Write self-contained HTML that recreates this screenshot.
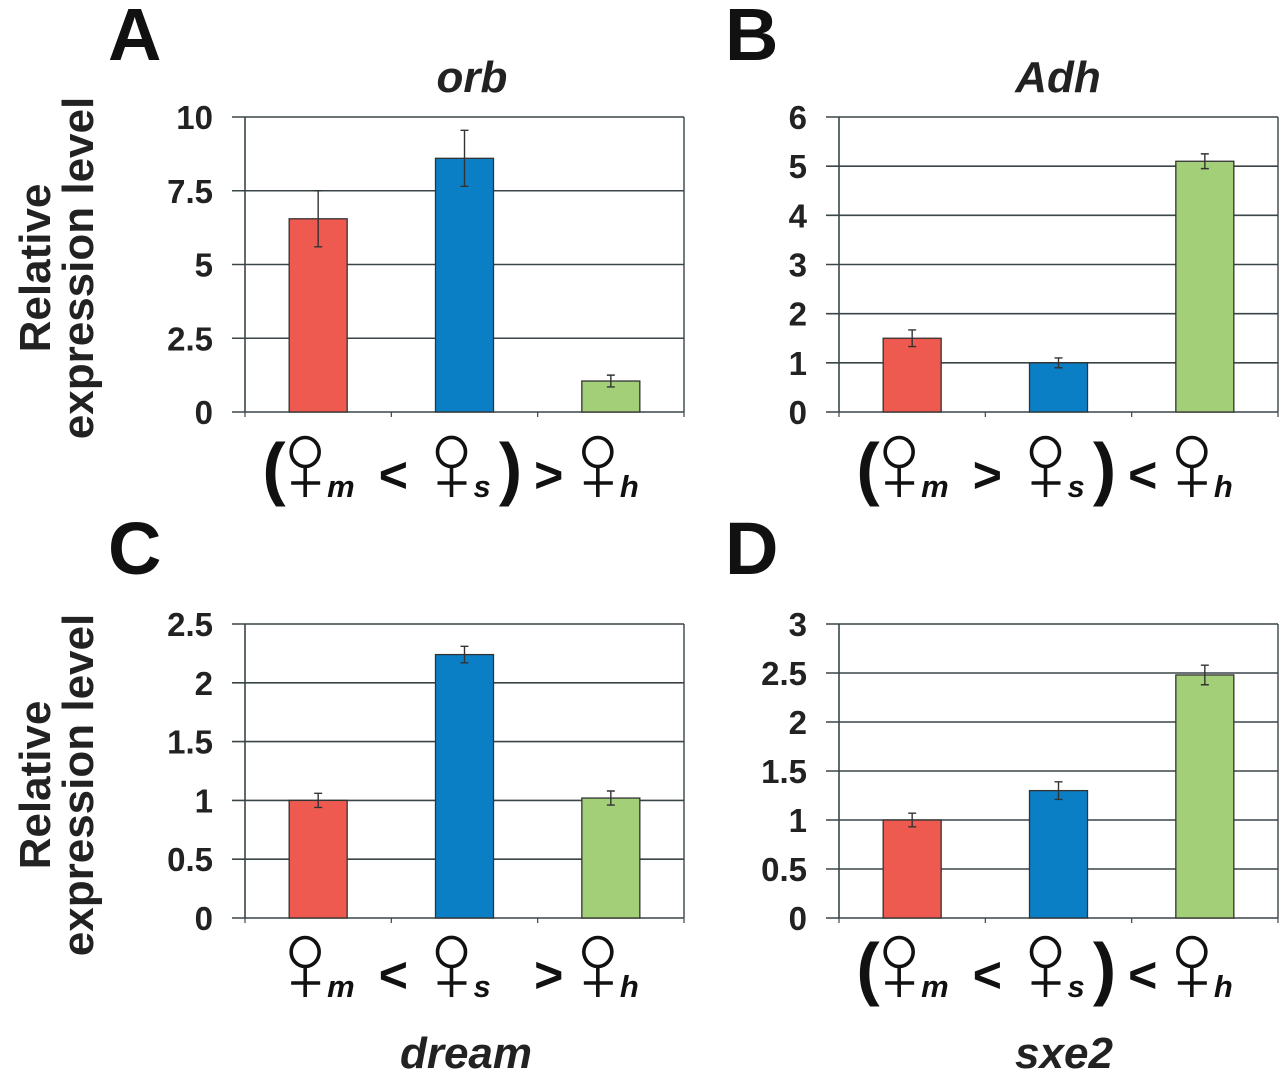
<!DOCTYPE html>
<html><head><meta charset="utf-8"><style>
html,body{margin:0;padding:0;background:#fff;}
svg{display:block;font-family:"Liberation Sans",Arial,sans-serif;}
</style></head><body>
<svg id="fig" width="1280" height="1075" viewBox="0 0 1280 1075" xmlns="http://www.w3.org/2000/svg"></svg>
<script>
const panelNames = ["orb-panel","adh-panel","dream-panel","sxe2-panel"];
const panelLetters = ["A","B","C","D"];
const geneNames = ["orb","Adh","dream","sxe2"];
const categories = ["m","s","h"];
const valuesA = [6.55, 8.6, 1.05];
const errA = [0.95, 0.95, 0.2];
const ticksA = ["0","2.5","5","7.5","10"];
const valuesB = [1.5, 1.0, 5.1];
const errB = [0.17, 0.1, 0.15];
const ticksB = ["0","1","2","3","4","5","6"];
const valuesC = [1.0, 2.24, 1.02];
const errC = [0.06, 0.07, 0.06];
const ticksC = ["0","0.5","1","1.5","2","2.5"];
const valuesD = [1.0, 1.3, 2.48];
const errD = [0.07, 0.09, 0.1];
const ticksD = ["0","0.5","1","1.5","2","2.5","3"];
const relations = [["(","<",")",">"],["(",">",")","<"],["","<","",">"],["(","<",")","<"]];

const NS="http://www.w3.org/2000/svg";
const svg=document.getElementById('fig');
function mk(tag,attrs,parent){const e=document.createElementNS(NS,tag);for(const k in attrs)e.setAttribute(k,attrs[k]);(parent||svg).appendChild(e);return e;}
const colors=["#ee5a4f","#0a7fc6","#a3cf78"];
const layouts=[
 {x0:245,x1:684,y0:412,y1:117,vals:valuesA,errs:errA,ticks:ticksA,max:10,lx:108,ly:60,tx:472,ty:92,sy:492},
 {x0:839,x1:1278,y0:412,y1:117,vals:valuesB,errs:errB,ticks:ticksB,max:6,lx:725,ly:60,tx:1058,ty:92,sy:492},
 {x0:245,x1:684,y0:918,y1:624,vals:valuesC,errs:errC,ticks:ticksC,max:2.5,lx:108,ly:574,tx:466,ty:1068,sy:992},
 {x0:839,x1:1278,y0:918,y1:624,vals:valuesD,errs:errD,ticks:ticksD,max:3,lx:725,ly:574,tx:1064,ty:1068,sy:992}
];
layouts.forEach((L,pi)=>{
  const g=mk('g',{});
  
  
  const yS=v=>L.y0-(v/L.max)*(L.y0-L.y1);
  const w=L.x1-L.x0, slot=w/3;
  const xS=i=>L.x0+slot*(i+0.5);
  L.ticks.forEach((t,ti)=>{
    const v=parseFloat(t), y=yS(v);
    const gl=mk('line',{x1:L.x0-13,x2:L.x1,y1:y,y2:y,stroke:'#3a4548','stroke-width':1.6},g);
    
    
    const tl=mk('text',{x:L.x0-32,y:y+12,'text-anchor':'end','font-size':33,'font-weight':'bold',fill:'#222'},g);
    tl.textContent=t;
    
    
  });
  mk('line',{x1:L.x0,x2:L.x0,y1:L.y1,y2:L.y0,stroke:'#3a4548','stroke-width':1.6},g);
  mk('line',{x1:L.x1,x2:L.x1,y1:L.y1,y2:L.y0,stroke:'#3a4548','stroke-width':1.4},g);
  for(let i=0;i<=3;i++) mk('line',{x1:L.x0+slot*i,x2:L.x0+slot*i,y1:L.y0,y2:L.y0+5,stroke:'#3a4548','stroke-width':1.2},g);
  L.vals.forEach((v,i)=>{
    const bw=58, cx=xS(i), top=yS(v);
    const b=mk('rect',{x:cx-bw/2,y:top,width:bw,height:L.y0-top,fill:colors[i],stroke:'#333','stroke-width':1.3},g);
    
    
    const e=L.errs[i], yt=yS(v+e), yb=yS(v-e);
    const eb=mk('path',{d:`M${cx},${yt}V${yb}M${cx-4},${yt}H${cx+4}M${cx-4},${yb}H${cx+4}`,stroke:'#333','stroke-width':1.4,fill:'none'},g);
    
    
  });
  const rel=relations[pi];
  const sy=L.sy;
  const addT=(txt,x,size,style,name,anchor,dy)=>{const t=mk('text',{x:x,y:sy+(dy||0),'font-size':size,'font-weight':'bold','font-style':style||'normal','text-anchor':anchor||'middle',fill:'#111'},g);t.textContent=txt;return t;};
  if(rel[0]) addT(rel[0],L.x0+29,70,'normal','open-paren','middle',0);
  for(let i=0;i<3;i++){
    const cx=xS(i)-13, cy=sy-40;
    const f=mk('path',{d:`M${cx+14},${cy}A14,14.5 0 1 1 ${cx-14},${cy}A14,14.5 0 1 1 ${cx+14},${cy}M${cx},${cy+14.5}V${cy+45}M${cx-14},${cy+31}H${cx+15}`,stroke:'#111','stroke-width':3.6,fill:'none'},g);
    
    
    addT(categories[i],xS(i)+9,31,'italic','subscript-'+categories[i],'start',5);
  }
  addT(rel[1],(xS(0)+xS(1))/2+2,50,'normal','relation-1');
  if(rel[2]) addT(rel[2],xS(1)+46,70,'normal','close-paren');
  addT(rel[3],(xS(1)+xS(2))/2+11,50,'normal','relation-2');
  const lt=mk('text',{x:L.lx,y:L.ly,'font-size':74,'font-weight':'bold',fill:'#111'},g);
  lt.textContent=panelLetters[pi];
  
  
  const tt=mk('text',{x:L.tx,y:L.ty,'font-size':44,'font-weight':'bold','font-style':'italic','text-anchor':'middle',fill:'#222'},g);
  tt.textContent=geneNames[pi];
  
  
});
[268,785].forEach(cy=>{
  const a=mk('text',{x:0,y:0,'font-size':44,'font-weight':'bold','text-anchor':'middle',fill:'#222',transform:`translate(50,${cy}) rotate(-90)`});
  a.textContent='Relative';
  
  
  const b=mk('text',{x:0,y:0,'font-size':44,'font-weight':'bold','text-anchor':'middle',fill:'#222',transform:`translate(93,${cy}) rotate(-90)`});
  b.textContent='expression level';
  
  
});
</script>
</body></html>
